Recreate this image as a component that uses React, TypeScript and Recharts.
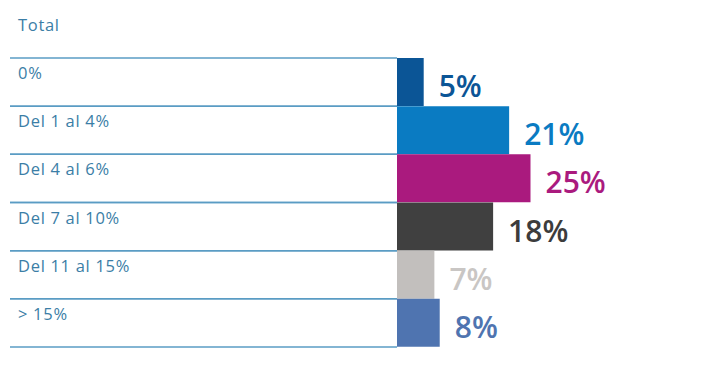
import { Bar, BarChart, Cell, LabelList, XAxis, YAxis } from "recharts"

const categories = ["0%", "Del 1 al 4%", "Del 4 al 6%", "Del 7 al 10%", "Del 11 al 15%", "> 15%"]
const values = [5, 21, 25, 18, 7, 8]
const colors = ["#0b5596", "#0a7bc2", "#aa1a7e", "#404040", "#c2bfbd", "#4f74b0"]
const labelColors = ["#0b5596", "#0a7bc2", "#aa1a7e", "#3c3c3c", "#c9c6c4", "#4f74b0"]

const data = categories.map((name, i) => ({ name, value: values[i] }))

const W = 693
const H = 359
const TOP = 50
const BOTTOM = 20
const AXIS_W = 389
const rowHalf = (H - TOP - BOTTOM) / categories.length / 2

const lineColor = "#5a9cc4"
const textColor = "#3b7ea6"
const font = "'Open Sans', sans-serif"

function RowTick(props: any) {
  const { y, payload } = props
  return (
    <g>
      <line x1={2} x2={AXIS_W} y1={y - rowHalf} y2={y - rowHalf} stroke={lineColor} strokeWidth={1.5} />
      <line x1={2} x2={AXIS_W} y1={y + rowHalf} y2={y + rowHalf} stroke={lineColor} strokeWidth={1.5} />
      <text x={10} y={y - 3} fill={textColor} fontSize={16.5} letterSpacing={0.7} fontFamily={font}>
        {payload.value}
      </text>
    </g>
  )
}

function ValueLabel(props: any) {
  const { x, y, width, height, value, index } = props
  return (
    <text
      x={x + width + 15}
      y={y + height / 2 + 15}
      fill={labelColors[index]}
      fontSize={30}
      fontWeight={600}
      fontFamily={font}
    >
      {value}%
    </text>
  )
}

export default function App() {
  return (
    <div style={{ position: "relative", width: W, height: H, background: "#fff" }}>
      <div
        style={{
          position: "absolute",
          left: 10,
          top: 9,
          fontFamily: font,
          fontSize: 16.5,
          lineHeight: "16px",
          letterSpacing: 0.7,
          color: textColor,
        }}
      >
        Total
      </div>
      <BarChart
        width={W}
        height={H}
        data={data}
        layout="vertical"
        barCategoryGap={0}
        margin={{ top: TOP, right: 37, bottom: BOTTOM, left: 0 }}
      >
        <XAxis type="number" domain={[0, 50]} hide />
        <YAxis
          type="category"
          dataKey="name"
          width={AXIS_W}
          axisLine={false}
          tickLine={false}
          tick={<RowTick />}
          interval={0}
        />
        <Bar dataKey="value" isAnimationActive={false}>
          {data.map((d, i) => (
            <Cell key={d.name} fill={colors[i]} />
          ))}
          <LabelList dataKey="value" content={<ValueLabel />} />
        </Bar>
      </BarChart>
    </div>
  )
}
